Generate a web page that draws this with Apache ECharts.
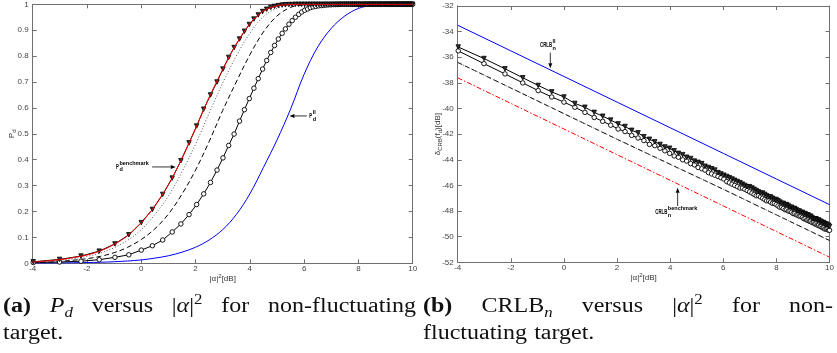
<!DOCTYPE html>
<html>
<head>
<meta charset="utf-8">
<script src="https://cdn.jsdelivr.net/npm/echarts@6/dist/echarts.min.js"></script>
<style>
html,body{margin:0;padding:0;background:#fff;}
#c{width:837px;height:353px;}
</style>
</head>
<body>
<div id="c"></div>
<script>
// |alpha|^2 grid (dB) on which the marked curves are sampled
const snrDb = [
  -3.98,-3.01,-2.22,-1.55,-0.97,-0.46,0,0.41,0.79,1.14,
  1.46,1.76,2.04,2.30,2.55,2.79,3.01,3.22,3.42,3.62,
  3.80,3.98,4.15,4.31,4.47,4.62,4.77,4.91,5.05,5.19,
  5.31,5.44,5.56,5.68,5.80,5.91,6.02,6.13,6.23,6.33,
  6.43,6.53,6.63,6.72,6.81,6.90,6.99,7.08,7.16,7.24,
  7.32,7.40,7.48,7.56,7.63,7.71,7.78,7.85,7.92,7.99,
  8.06,8.13,8.20,8.26,8.33,8.39,8.45,8.51,8.57,8.63,
  8.69,8.75,8.81,8.86,8.92,8.98,9.03,9.08,9.14,9.19,
  9.24,9.29,9.34,9.40,9.44,9.49,9.54,9.59,9.64,9.68,
  9.73,9.78,9.82,9.87,9.91,9.96,10
];
// half-dB grid for the unmarked detection curves
const snrHalfDb = [-4,-3.5,-3,-2.5,-2,-1.5,-1,-0.5,0,0.5,1,1.5,2,2.5,3,3.5,4,4.5,5,5.5,6,6.5,7,7.5,8,8.5,9,9.5,10];
// coarse grid for the straight CRLB lines
const snrCoarseDb = [-4,-2,0,2,4,6,8,10];

// (a) probability of detection
const pdBenchmark = [0.005,0.009,0.014,0.022,0.032,0.048,0.073,0.107,0.157,0.221,
  0.303,0.405,0.52,0.64,0.748,0.846,0.924,0.974,0.994,0.999,
  1,1,1,1,1,1,1,1,1];
const pdDotted = [0.004,0.007,0.012,0.018,0.027,0.040,0.060,0.089,0.13,0.188,
  0.26,0.353,0.46,0.58,0.696,0.80,0.888,0.952,0.985,0.997,
  1,1,1,1,1,1,1,1,1];
const pdDashed = [0.003,0.004,0.0075,0.012,0.018,0.027,0.041,0.062,0.092,0.133,
  0.19,0.267,0.36,0.47,0.59,0.70,0.805,0.893,0.955,0.988,
  0.998,1,1,1,1,1,1,1,1];
const pdSeparate = [0.0005,0.001,0.0015,0.002,0.003,0.004,0.006,0.009,0.013,0.02,
  0.029,0.043,0.062,0.09,0.13,0.188,0.268,0.37,0.476,0.595,
  0.73,0.835,0.907,0.955,0.984,0.996,0.999,1,1];
const pdTriangle = [
  0.006,0.015,0.028,0.047,0.075,0.11,0.157,0.208,0.266,0.329,
  0.396,0.465,0.53,0.595,0.65,0.70,0.75,0.795,0.833,0.866,
  0.896,0.922,0.943,0.959,0.972,0.981,0.988,0.992,0.995,0.997,
  0.998,0.999,0.999,1,1,1,1,1,1,1,
  1,1,1,1,1,1,1,1,1,1,
  1,1,1,1,1,1,1,1,1,1,
  1,1,1,1,1,1,1,1,1,1,
  1,1,1,1,1,1,1,1,1,1,
  1,1,1,1,1,1,1,1,1,1,
  1,1,1,1,1,1,1
];
const pdCircle = [
  0.003,0.005,0.008,0.014,0.023,0.033,0.051,0.068,0.09,0.121,
  0.152,0.188,0.227,0.268,0.312,0.36,0.407,0.455,0.499,0.549,
  0.593,0.636,0.676,0.713,0.75,0.783,0.814,0.841,0.866,0.888,
  0.905,0.923,0.937,0.95,0.961,0.97,0.977,0.982,0.987,0.99,
  0.992,0.994,0.995,0.996,0.997,0.998,0.998,0.999,0.999,0.999,
  1,1,1,1,1,1,1,1,1,1,
  1,1,1,1,1,1,1,1,1,1,
  1,1,1,1,1,1,1,1,1,1,
  1,1,1,1,1,1,1,1,1,1,
  1,1,1,1,1,1,1
];

// (b) CRLB in dB
const crlbSeparate = [-33.5,-35.5,-37.5,-39.5,-41.5,-43.5,-45.5,-47.5];
const crlbBenchmark = [-37.6,-39.6,-41.6,-43.6,-45.6,-47.6,-49.6,-51.6];
const crlbDashed = [-36.4,-38.4,-40.4,-42.4,-44.35,-46.3,-48.3,-50.3];
const crlbDotted = [-36.4,-38.4,-40.4,-42.4,-44.35,-46.3,-48.3,-50.3];
const crlbTriangle = [
  -35.2,-36.1,-36.9,-37.6,-38.2,-38.7,-39.1,-39.6,-39.9,-40.3,
  -40.6,-40.9,-41.2,-41.4,-41.7,-41.9,-42.2,-42.4,-42.6,-42.8,
  -43.0,-43.1,-43.3,-43.5,-43.6,-43.8,-43.9,-44.1,-44.2,-44.3,
  -44.5,-44.6,-44.7,-44.8,-45.0,-45.1,-45.2,-45.3,-45.4,-45.5,
  -45.6,-45.7,-45.8,-45.9,-46.0,-46.1,-46.1,-46.2,-46.3,-46.4,
  -46.5,-46.6,-46.6,-46.7,-46.8,-46.9,-46.9,-47.0,-47.1,-47.1,
  -47.2,-47.3,-47.4,-47.4,-47.5,-47.5,-47.6,-47.7,-47.7,-47.8,
  -47.8,-47.9,-48.0,-48.0,-48.1,-48.1,-48.2,-48.2,-48.3,-48.3,
  -48.4,-48.4,-48.5,-48.6,-48.6,-48.6,-48.7,-48.7,-48.8,-48.8,
  -48.9,-48.9,-49.0,-49.0,-49.1,-49.1,-49.2
];
const crlbCircle = [
  -35.5,-36.5,-37.3,-38.0,-38.6,-39.1,-39.5,-39.9,-40.3,-40.7,
  -41.0,-41.3,-41.6,-41.8,-42.1,-42.3,-42.5,-42.8,-42.9,-43.1,
  -43.3,-43.5,-43.7,-43.8,-44.0,-44.1,-44.3,-44.4,-44.6,-44.7,
  -44.8,-45.0,-45.1,-45.2,-45.3,-45.4,-45.5,-45.7,-45.8,-45.9,
  -46.0,-46.1,-46.2,-46.2,-46.3,-46.4,-46.5,-46.6,-46.7,-46.8,
  -46.8,-46.9,-47.0,-47.1,-47.2,-47.2,-47.3,-47.4,-47.4,-47.5,
  -47.6,-47.7,-47.7,-47.8,-47.9,-47.9,-48.0,-48.0,-48.1,-48.2,
  -48.2,-48.3,-48.3,-48.4,-48.4,-48.5,-48.6,-48.6,-48.7,-48.7,
  -48.8,-48.8,-48.9,-48.9,-49.0,-49.0,-49.1,-49.1,-49.2,-49.2,
  -49.3,-49.3,-49.4,-49.4,-49.4,-49.5,-49.5
];

// tick labels
const xTickLabels = ['-4','-2','0','2','4','6','8','10'];
const pdTickLabels = ['0','0.1','0.2','0.3','0.4','0.5','0.6','0.7','0.8','0.9','1'];
const crlbTickLabels = ['-52','-50','-48','-46','-44','-42','-40','-38','-36','-34','-32'];

[[snrDb, pdTriangle],[snrDb, pdCircle],[snrDb, crlbTriangle],[snrDb, crlbCircle],
 [snrHalfDb, pdBenchmark],[snrHalfDb, pdDotted],[snrHalfDb, pdDashed],[snrHalfDb, pdSeparate]]
  .forEach(([a,b], i) => { if (a.length !== b.length) throw new Error('length mismatch in pair ' + i + ': ' + a.length + ' vs ' + b.length); });

const pairs = (xs, ys) => xs.map((x, i) => [x, ys[i]]);

const AXIS_COLOR = '#707070';
const TICK_FONT = "'Liberation Sans Narrow','Liberation Sans',Arial,sans-serif";

function axis(extra, labels, showLabels) {
  return Object.assign({
    type: 'value',
    nameMoveOverlap: false,
    axisLine: { show: true, onZero: false, lineStyle: { color: AXIS_COLOR, width: 1 } },
    axisTick: { show: true, inside: true, length: 4, lineStyle: { color: AXIS_COLOR, width: 1 } },
    splitLine: { show: false },
    axisLabel: {
      show: showLabels, fontSize: 8, color: '#444', fontFamily: TICK_FONT,
      formatter: (v, idx) => labels[idx]
    }
  }, extra);
}

const nameStyle = {
  fontSize: 8, color: '#333', fontFamily: TICK_FONT,
  rich: {
    b: { fontSize: 8, color: '#333', fontFamily: TICK_FONT, lineHeight: 11 },
    sup: { fontSize: 6, color: '#333', fontFamily: TICK_FONT, lineHeight: 11, verticalAlign: 'top' },
    sub: { fontSize: 6, color: '#333', fontFamily: TICK_FONT, lineHeight: 11, verticalAlign: 'bottom' }
  }
};

const xName = '{b||α|}{sup|2}{b|[dB]}';

const triangleStyle = {
  symbol: 'triangle', symbolRotate: 180, symbolSize: 4.5, showSymbol: true,
  itemStyle: { color: '#333', borderColor: '#000', borderWidth: 0.8 }
};
const circleStyle = {
  symbol: 'circle', symbolSize: 4.5, showSymbol: true,
  itemStyle: { color: '#fff', borderColor: '#000', borderWidth: 0.9 }
};

const tickLabel = labels => ({ show: true, fontSize: 8, color: '#444', fontFamily: TICK_FONT, formatter: (v, i) => labels[i] });

const option = {
  animation: false,
  backgroundColor: '#fff',
  grid: [
    { left: 32.7, top: 4.3, width: 380, height: 259 },
    { left: 457.7, top: 6, width: 374.6, height: 256.3 }
  ],
  xAxis: [
    axis({ gridIndex: 0, position: 'bottom', min: -4, max: 10, interval: 2,
      name: xName, nameLocation: 'middle', nameGap: 10, nameTextStyle: nameStyle,
      axisLabel: Object.assign(tickLabel(xTickLabels), { margin: 1 }) }, xTickLabels, true),
    axis({ gridIndex: 0, position: 'top', min: -4, max: 10, interval: 2 }, xTickLabels, false),
    axis({ gridIndex: 1, position: 'bottom', min: -4, max: 10, interval: 2,
      name: xName, nameLocation: 'middle', nameGap: 10, nameTextStyle: nameStyle,
      axisLabel: Object.assign(tickLabel(xTickLabels), { margin: 1 }) }, xTickLabels, true),
    axis({ gridIndex: 1, position: 'top', min: -4, max: 10, interval: 2 }, xTickLabels, false)
  ],
  yAxis: [
    axis({ gridIndex: 0, position: 'left', min: 0, max: 1, interval: 0.1,
      name: '{b|P}{sub|d}', nameLocation: 'middle', nameGap: 15, nameTextStyle: nameStyle,
      axisLabel: Object.assign(tickLabel(pdTickLabels), { margin: 4 }) }, pdTickLabels, true),
    axis({ gridIndex: 0, position: 'right', min: 0, max: 1, interval: 0.1 }, pdTickLabels, false),
    axis({ gridIndex: 1, position: 'left', min: -52, max: -32, interval: 2,
      name: '{b|δ}{sub|CRB}{b|(f}{sub|d}{b|)[dB]}', nameLocation: 'middle', nameGap: 14, nameTextStyle: nameStyle,
      axisLabel: Object.assign(tickLabel(crlbTickLabels), { margin: 4 }) }, crlbTickLabels, true),
    axis({ gridIndex: 1, position: 'right', min: -52, max: -32, interval: 2 }, crlbTickLabels, false)
  ],
  series: [
    // (a) detection probability
    { name: 'Pd separate', type: 'line', xAxisIndex: 0, yAxisIndex: 0, data: pairs(snrHalfDb, pdSeparate),
      smooth: 0.35, showSymbol: false, lineStyle: { color: '#0000ff', width: 1 }, z: 2 },
    Object.assign({ name: 'Pd circle', type: 'line', xAxisIndex: 0, yAxisIndex: 0, data: pairs(snrDb, pdCircle),
      lineStyle: { color: '#000', width: 1 }, z: 2 }, circleStyle),
    { name: 'Pd dashed', type: 'line', xAxisIndex: 0, yAxisIndex: 0, data: pairs(snrHalfDb, pdDashed),
      smooth: 0.35, showSymbol: false, lineStyle: { color: '#000', width: 1, type: [5, 3] }, z: 2 },
    { name: 'Pd dotted', type: 'line', xAxisIndex: 0, yAxisIndex: 0, data: pairs(snrHalfDb, pdDotted),
      smooth: 0.35, showSymbol: false, lineStyle: { color: '#555', width: 1, type: [1, 2] }, z: 2 },
    Object.assign({ name: 'Pd triangle', type: 'line', xAxisIndex: 0, yAxisIndex: 0, data: pairs(snrDb, pdTriangle),
      lineStyle: { color: '#000', width: 1 }, z: 3 }, triangleStyle),
    { name: 'Pd benchmark', type: 'line', xAxisIndex: 0, yAxisIndex: 0, data: pairs(snrHalfDb, pdBenchmark),
      smooth: 0.35, showSymbol: false, lineStyle: { color: '#ff0000', width: 1 }, z: 4 },

    // (b) CRLB
    { name: 'CRLB separate', type: 'line', xAxisIndex: 2, yAxisIndex: 2, data: pairs(snrCoarseDb, crlbSeparate),
      showSymbol: false, lineStyle: { color: '#0000ff', width: 1 }, z: 2 },
    { name: 'CRLB dashed', type: 'line', xAxisIndex: 2, yAxisIndex: 2, data: pairs(snrCoarseDb, crlbDashed),
      showSymbol: false, lineStyle: { color: '#000', width: 1, type: [5, 3] }, z: 2 },
    { name: 'CRLB dotted', type: 'line', xAxisIndex: 2, yAxisIndex: 2, data: pairs(snrCoarseDb, crlbDotted),
      showSymbol: false, lineStyle: { color: '#666', width: 1, type: [1, 2] }, z: 2 },
    { name: 'CRLB benchmark', type: 'line', xAxisIndex: 2, yAxisIndex: 2, data: pairs(snrCoarseDb, crlbBenchmark),
      showSymbol: false, lineStyle: { color: '#ff0000', width: 1, type: [5, 2, 1.5, 2] }, z: 2 },
    Object.assign({ name: 'CRLB circle', type: 'line', xAxisIndex: 2, yAxisIndex: 2, data: pairs(snrDb, crlbCircle),
      lineStyle: { color: '#000', width: 1 }, z: 3 }, circleStyle),
    Object.assign({ name: 'CRLB triangle', type: 'line', xAxisIndex: 2, yAxisIndex: 2, data: pairs(snrDb, crlbTriangle),
      lineStyle: { color: '#000', width: 1 }, z: 3 }, triangleStyle)
  ]
};

const chart = echarts.init(document.getElementById('c'), null, { width: 837, height: 353 });
chart.setOption(option);

// ---------- in-plot annotations (labels with arrows), anchored in data coordinates ----------
const measureCtx = document.createElement('canvas').getContext('2d');
function textWidth(str, size, weight, family, style) {
  measureCtx.font = (style || 'normal') + ' ' + (weight || 'normal') + ' ' + size + 'px ' + family;
  return measureCtx.measureText(str).width;
}

const ANNO_FONT = "'Liberation Sans',Arial,sans-serif";
const annotations = [
  { grid: 0, at: [6.19, 0.569], main: 'P', sup: 'll', sub: 'd' },
  { grid: 0, at: [-0.93, 0.373], main: 'P', sup: 'benchmark', sub: 'd' },
  { grid: 1, at: [-0.90, -35.04], main: 'CRLB', sup: 'll', sub: 'n' },
  { grid: 1, at: [3.44, -48.07], main: 'CRLB', sup: 'benchmark', sub: 'n' }
];
const arrows = [
  { grid: 0, from: [6.10, 0.569], to: [5.46, 0.569] },
  { grid: 0, from: [0.40, 0.372], to: [1.27, 0.372] },
  { grid: 1, from: [-0.513, -35.64], to: [-0.513, -36.86] },
  { grid: 1, from: [4.281, -47.61], to: [4.281, -46.18] }
];

const graphics = [];
const MAIN_SCALE = 0.62;
annotations.forEach(a => {
  const p = chart.convertToPixel({ gridIndex: a.grid }, a.at);
  const mainW = textWidth(a.main, 7, 'bold', ANNO_FONT) * MAIN_SCALE;
  graphics.push({ type: 'text', x: p[0], y: p[1], scaleX: MAIN_SCALE, silent: true,
    style: { text: a.main, fontSize: 7, fontWeight: 'bold', fontFamily: ANNO_FONT, fill: '#000', verticalAlign: 'middle', align: 'left' } });
  graphics.push({ type: 'text', x: p[0] + mainW + 0.5, y: p[1] - 3, silent: true,
    style: { text: a.sup, fontSize: 5.5, fontWeight: 'bold', fontFamily: ANNO_FONT, fill: '#000', verticalAlign: 'middle', align: 'left' } });
  graphics.push({ type: 'text', x: p[0] + mainW + 0.5, y: p[1] + 3.2, silent: true,
    style: { text: a.sub, fontSize: 5.5, fontWeight: 'bold', fontFamily: ANNO_FONT, fill: '#000', verticalAlign: 'middle', align: 'left' } });
});
arrows.forEach(ar => {
  const f = chart.convertToPixel({ gridIndex: ar.grid }, ar.from);
  const t = chart.convertToPixel({ gridIndex: ar.grid }, ar.to);
  const dx = t[0] - f[0], dy = t[1] - f[1];
  const len = Math.hypot(dx, dy);
  const ux = dx / len, uy = dy / len;
  const hl = 5, hw = 2;
  const bx = t[0] - ux * hl, by = t[1] - uy * hl;
  graphics.push({ type: 'line', silent: true,
    shape: { x1: f[0], y1: f[1], x2: bx, y2: by }, style: { stroke: '#000', lineWidth: 0.8 } });
  graphics.push({ type: 'polygon', silent: true,
    shape: { points: [[t[0], t[1]], [bx - uy * hw, by + ux * hw], [bx + uy * hw, by - ux * hw]] },
    style: { fill: '#000' } });
});

// ---------- sub-figure captions (typeset serif, first lines justified) ----------
const CAP_FONT = "'Liberation Serif','Times New Roman',serif";
const CAP_SIZE = 20, SCRIPT_SIZE = 14;
const CAP_STRETCH = 1.2;   // horizontal set width of the caption face
const captionLines = [
  { x0: 3, x1: 416, baseline: 314, justify: true, words: [
    [{ t: '(a)', b: 1 }],
    [{ t: 'P', it: 1 }, { t: 'd', it: 1, sc: 1, dy: 4 }],
    [{ t: 'versus' }],
    [{ t: '|' }, { t: 'α', it: 1 }, { t: '|' }, { t: '2', sc: 1, dy: -9 }],
    [{ t: 'for' }],
    [{ t: 'non-fluctuating' }]
  ] },
  { x0: 3, baseline: 341, justify: false, words: [[{ t: 'target.' }]] },
  { x0: 423, x1: 833, baseline: 314, justify: true, words: [
    [{ t: '(b)', b: 1 }],
    [{ t: 'CRLB' }, { t: 'n', it: 1, sc: 1, dy: 4 }],
    [{ t: 'versus' }],
    [{ t: '|' }, { t: 'α', it: 1 }, { t: '|' }, { t: '2', sc: 1, dy: -9 }],
    [{ t: 'for' }],
    [{ t: 'non-' }]
  ] },
  { x0: 423, baseline: 341, justify: false, words: [[{ t: 'fluctuating' }], [{ t: 'target.' }]] }
];
function runWidth(r) {
  return CAP_STRETCH * textWidth(r.t, r.sc ? SCRIPT_SIZE : CAP_SIZE, r.b ? 'bold' : 'normal', CAP_FONT, r.it ? 'italic' : 'normal');
}
captionLines.forEach(line => {
  const widths = line.words.map(w => w.reduce((s, r) => s + runWidth(r), 0));
  const total = widths.reduce((s, w) => s + w, 0);
  const gap = line.justify && line.words.length > 1
    ? (line.x1 - line.x0 - total) / (line.words.length - 1)
    : CAP_SIZE * 0.3 * CAP_STRETCH;
  let x = line.x0;
  line.words.forEach((w, wi) => {
    let rx = x;
    w.forEach(r => {
      const size = r.sc ? SCRIPT_SIZE : CAP_SIZE;
      const base = line.baseline + (r.dy || 0);
      graphics.push({ type: 'text', x: rx, y: base - 0.34 * size, scaleX: CAP_STRETCH, silent: true,
        style: { text: r.t, fontSize: size, fontFamily: CAP_FONT,
          fontWeight: r.b ? 'bold' : 'normal', fontStyle: r.it ? 'italic' : 'normal',
          fill: '#111', align: 'left', verticalAlign: 'middle' } });
      rx += runWidth(r);
    });
    x += widths[wi] + gap;
  });
});

chart.setOption({ graphic: graphics });
</script>
</body>
</html>
